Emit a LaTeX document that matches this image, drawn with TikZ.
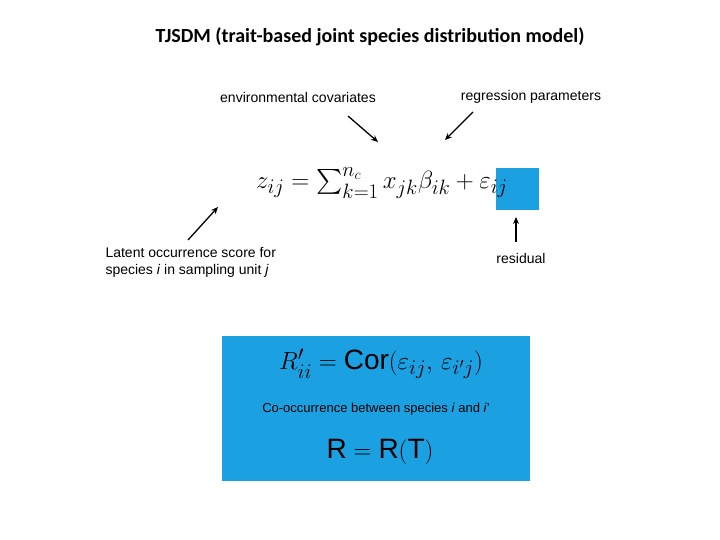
\documentclass[tikz,border=0pt]{standalone}
\usepackage{fontspec}
\usepackage{amsmath}
\usetikzlibrary{arrows.meta}
\setmainfont{Liberation Sans}
\newfontfamily\calib{Carlito}
\definecolor{boxblue}{HTML}{1BA1E2}
\begin{document}
\begin{tikzpicture}[x=1pt,y=-1pt,
  lbl/.style={font=\fontsize{14}{17}\selectfont,align=left},
  arr/.style={-{Stealth[length=7pt,width=6pt]},line width=1.3pt}]
\useasboundingbox (0,0) rectangle (720,540);
\node[font=\calib\bfseries\fontsize{20}{24}\selectfont] (title) at (370,37) {TJSDM (trait-based joint species distribution model)};
\node[lbl] (env) at (298,97) {environmental covariates};
\node[lbl] (reg) at (531,97) {regression parameters};
\node[lbl,anchor=west] (lat) at (102,262) {Latent occurrence score for\\species \textit{i} in sampling unit \textit{j}};
\node[lbl] (res) at (521,258) {residual};
\node[fill=boxblue,minimum width=43pt,minimum height=42pt,inner sep=0] (eb) at (517.5,189) {};
\node[font=\fontsize{30}{34}\selectfont] (eq) at (382,183) {$z_{ij} = \textstyle\sum_{k=1}^{n_c} x_{jk}\beta_{ik} + \varepsilon_{ij}$};
\coordinate (a1s) at (348,116); \coordinate (a1e) at (378,142);
\coordinate (a2s) at (473,112); \coordinate (a2e) at (445,140);
\coordinate (a3s) at (188,240); \coordinate (a3e) at (218,207);
\coordinate (a4s) at (516,242); \coordinate (a4e) at (516,217);
\draw[arr] (a1s) -- (a1e);
\draw[arr] (a2s) -- (a2e);
\draw[arr] (a3s) -- (a3e);
\draw[arr] (a4s) -- (a4e);
\node[fill=boxblue,minimum width=308pt,minimum height=145pt,inner sep=0] (cb) at (376,408.5) {};
\node[font=\fontsize{28}{32}\selectfont] (cor) at (381,364) {$R'_{ii} = \mathrm{Cor}(\varepsilon_{ij},\, \varepsilon_{i'j})$};
\node[font=\fontsize{13}{16}\selectfont] (co) at (376,409) {Co-occurrence between species \textit{i} and \textit{i}'};
\node[font=\fontsize{28}{32}\selectfont] (rr) at (380,452) {$\mathrm{R} = \mathrm{R(T)}$};
\end{tikzpicture}
\end{document}
